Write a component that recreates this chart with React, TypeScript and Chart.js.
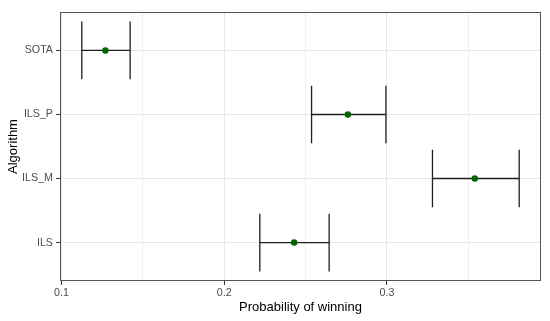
import React, { useEffect, useRef } from "react";
import { Chart, registerables } from "chart.js";

Chart.register(...registerables);

const categories = ["SOTA", "ILS_P", "ILS_M", "ILS"];
const estimates = [0.127, 0.276, 0.354, 0.243];
const lower = [0.1125, 0.2537, 0.328, 0.2219];
const upper = [0.1422, 0.2994, 0.3813, 0.2645];
const xTicks = [0.1, 0.15, 0.2, 0.25, 0.3, 0.35];
const xTickLabels = ["0.1", "", "0.2", "", "0.3", ""];
const xMin = 0.0991;
const xMax = 0.3947;

const FONT = "'Liberation Sans', Arial, Helvetica, sans-serif";

const errorBarPlugin = {
  id: "errorBars",
  beforeDatasetsDraw(chart: any) {
    const { ctx, scales } = chart;
    const x = scales.x;
    const y = scales.y;
    ctx.save();
    ctx.strokeStyle = "#1f1f1f";
    ctx.lineWidth = 1.3;
    categories.forEach((_, i) => {
      const yc = y.getPixelForValue(i);
      const half = Math.abs(y.getPixelForValue(i + 0.45) - yc);
      const xl = x.getPixelForValue(lower[i]);
      const xh = x.getPixelForValue(upper[i]);
      ctx.beginPath();
      ctx.moveTo(xl, yc);
      ctx.lineTo(xh, yc);
      ctx.moveTo(xl, yc - half);
      ctx.lineTo(xl, yc + half);
      ctx.moveTo(xh, yc - half);
      ctx.lineTo(xh, yc + half);
      ctx.stroke();
    });
    ctx.restore();
  },
  afterDatasetsDraw(chart: any) {
    const { ctx, chartArea } = chart;
    ctx.save();
    ctx.strokeStyle = "#555555";
    ctx.lineWidth = 1;
    ctx.strokeRect(
      Math.round(chartArea.left) + 0.5,
      Math.round(chartArea.top) + 0.5,
      Math.round(chartArea.right - chartArea.left) - 1,
      Math.round(chartArea.bottom - chartArea.top) - 1
    );
    ctx.restore();
  },
};

export default function App() {
  const ref = useRef<HTMLCanvasElement | null>(null);

  useEffect(() => {
    if (!ref.current) return;
    const chart = new Chart(ref.current, {
      type: "scatter",
      data: {
        datasets: [
          {
            data: categories.map((_, i) => ({ x: estimates[i], y: i })),
            backgroundColor: "#006400",
            borderWidth: 0,
            pointRadius: 3.2,
            pointHoverRadius: 3.2,
          },
        ],
      },
      options: {
        animation: false,
        responsive: false,
        devicePixelRatio: 1,
        events: [],
        layout: { padding: { top: 12, right: 9, left: 0, bottom: 0 } },
        plugins: {
          legend: { display: false },
          tooltip: { enabled: false },
        },
        scales: {
          x: {
            type: "linear",
            min: xMin,
            max: xMax,
            afterBuildTicks: (s: any) => {
              s.ticks = xTicks.map((v) => ({ value: v }));
            },
            afterFit: (s: any) => {
              s.height = 40;
            },
            border: { display: false },
            grid: {
              color: (c: any) => (xTickLabels[c.index] ? "#e6e6e6" : "#efefef"),
              lineWidth: 1,
              drawTicks: true,
              tickLength: 4,
              tickColor: (c: any) => (xTickLabels[c.index] ? "#333333" : "rgba(0,0,0,0)"),
              tickWidth: 1,
            },
            ticks: {
              autoSkip: false,
              maxRotation: 0,
              padding: 2,
              color: "#4d4d4d",
              font: { family: FONT, size: 10.7 },
              callback: (_v: any, idx: number) => xTickLabels[idx],
            },
            title: {
              display: true,
              text: "Probability of winning",
              color: "#000000",
              font: { family: FONT, size: 13 },
              padding: { top: 6, bottom: 6 },
            },
          },
          y: {
            type: "linear",
            min: -0.6,
            max: 3.6,
            reverse: true,
            afterBuildTicks: (s: any) => {
              s.ticks = categories.map((_, i) => ({ value: i }));
            },
            afterFit: (s: any) => {
              s.width = 60;
            },
            border: { display: false },
            grid: {
              color: "#e6e6e6",
              lineWidth: 1,
              drawTicks: true,
              tickLength: 4,
              tickColor: "#333333",
              tickWidth: 1,
            },
            ticks: {
              autoSkip: false,
              padding: 3,
              color: "#4d4d4d",
              font: { family: FONT, size: 10.7 },
              callback: (v: any) => categories[v] ?? "",
            },
            title: {
              display: true,
              text: "Algorithm",
              color: "#000000",
              font: { family: FONT, size: 13 },
              padding: { top: 5.5, bottom: 5.5 },
            },
          },
        },
      },
      plugins: [errorBarPlugin],
    } as any);
    return () => chart.destroy();
  }, []);

  return (
    <div style={{ position: "absolute", left: 0, top: 0, width: 550, height: 321, background: "#ffffff" }}>
      <canvas ref={ref} width={550} height={321} style={{ display: "block" }} />
    </div>
  );
}
